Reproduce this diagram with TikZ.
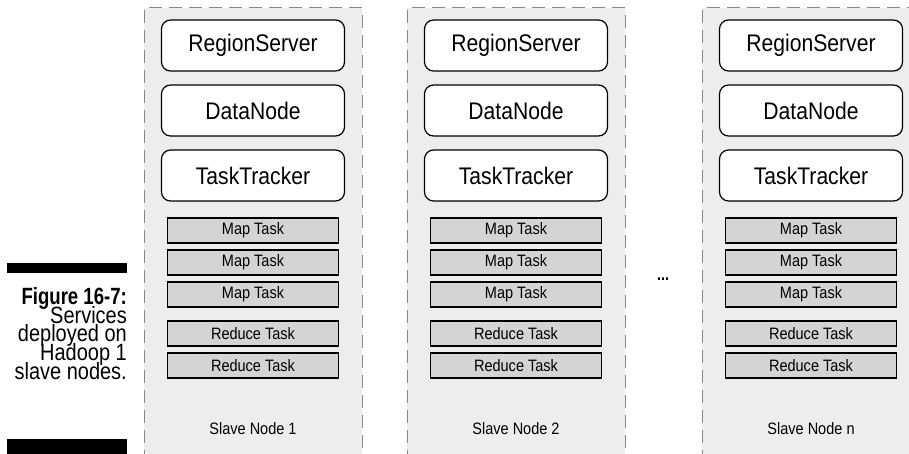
\documentclass[tikz,border=0pt]{standalone}
\usepackage{fontspec}
\setmainfont{Liberation Sans}[FakeStretch=0.88,BoldFeatures={FakeStretch=0.8}]
\newfontfamily\captionfont{Liberation Sans}[FakeStretch=0.85,BoldFeatures={FakeStretch=0.79}]
\newcommand\captionsize{\captionfont\fontsize{23.5}{18.8}\selectfont\lineskiplimit=-20pt\relax}
\usepackage{xcolor}
\usepackage{tikz}
\usetikzlibrary{positioning,calc}
\definecolor{slaveGray}{RGB}{237,237,237}
\definecolor{taskGray}{RGB}{212,212,212}
\definecolor{borderGray}{RGB}{136,136,136}

\begin{document}
\begin{tikzpicture}[x=1pt,y=-1pt,align=center]
    \tikzset{
        slavenode/.style={
            draw=borderGray,
            fill=slaveGray,
            line width=1pt,
            dash pattern=on 13pt off 7pt,
            minimum width=218pt,
            minimum height=462pt,
            inner sep=0pt
        },
        service/.style={
            draw,
            fill=white,
            line width=1.2pt,
            rounded corners=9pt,
            minimum width=183pt,
            minimum height=51pt,
            inner sep=0pt,
            font=\fontsize{24}{28}\selectfont
        },
        task/.style={
            draw,
            fill=taskGray,
            line width=1.2pt,
            minimum width=171pt,
            minimum height=25pt,
            inner sep=0pt,
            font=\fontsize{16.5}{19}\selectfont
        },
        slavelabel/.style={
            inner sep=0pt,
            font=\fontsize{16.5}{19}\selectfont
        }
    }
    \clip (0,0) rectangle (909,454);

    % Caption
    \node[fill=black,minimum width=120pt,minimum height=10pt,inner sep=0pt] (bar_T) at (67,268) {};
    \node[fill=black,minimum width=120pt,minimum height=20pt,inner sep=0pt] (bar_B) at (67,449) {};
    \node[anchor=north east,align=right,inner sep=0pt,font=\captionsize] (caption) at (127,287)
        {\textbf{Figure 16-7:}\\Services\\deployed on\\Hadoop 1\\slave nodes.};

    % Slave Node 1
    \node[slavenode] (N1) at (253,239) {};
    \node[service] (N1_RS) at (253,45.5) {RegionServer};
    \node[service] (N1_DN) at (253,110.5) {DataNode};
    \node[service] (N1_TT) at (253,175.5) {TaskTracker};
    \node[task] (N1_M1) at (253,230.5) {Map Task};
    \node[task] (N1_M2) at (253,262.5) {Map Task};
    \node[task] (N1_M3) at (253,294.5) {Map Task};
    \node[task] (N1_R1) at (253,333.5) {Reduce Task};
    \node[task] (N1_R2) at (253,365.5) {Reduce Task};
    \node[slavelabel] (N1_label) at (253,429) {Slave Node 1};

    % Slave Node 2
    \node[slavenode] (N2) at (516,239) {};
    \node[service] (N2_RS) at (516,45.5) {RegionServer};
    \node[service] (N2_DN) at (516,110.5) {DataNode};
    \node[service] (N2_TT) at (516,175.5) {TaskTracker};
    \node[task] (N2_M1) at (516,230.5) {Map Task};
    \node[task] (N2_M2) at (516,262.5) {Map Task};
    \node[task] (N2_M3) at (516,294.5) {Map Task};
    \node[task] (N2_R1) at (516,333.5) {Reduce Task};
    \node[task] (N2_R2) at (516,365.5) {Reduce Task};
    \node[slavelabel] (N2_label) at (516,429) {Slave Node 2};

    % dots
    \node[anchor=base,inner sep=0pt,font=\fontsize{18}{19}\selectfont\bfseries] (dots) at (663,280) {...};

    % Slave Node n
    \node[slavenode] (Nn) at (811,239) {};
    \node[service] (Nn_RS) at (811,45.5) {RegionServer};
    \node[service] (Nn_DN) at (811,110.5) {DataNode};
    \node[service] (Nn_TT) at (811,175.5) {TaskTracker};
    \node[task] (Nn_M1) at (811,230.5) {Map Task};
    \node[task] (Nn_M2) at (811,262.5) {Map Task};
    \node[task] (Nn_M3) at (811,294.5) {Map Task};
    \node[task] (Nn_R1) at (811,333.5) {Reduce Task};
    \node[task] (Nn_R2) at (811,365.5) {Reduce Task};
    \node[slavelabel] (Nn_label) at (811,429) {Slave Node n};
\end{tikzpicture}
\end{document}
